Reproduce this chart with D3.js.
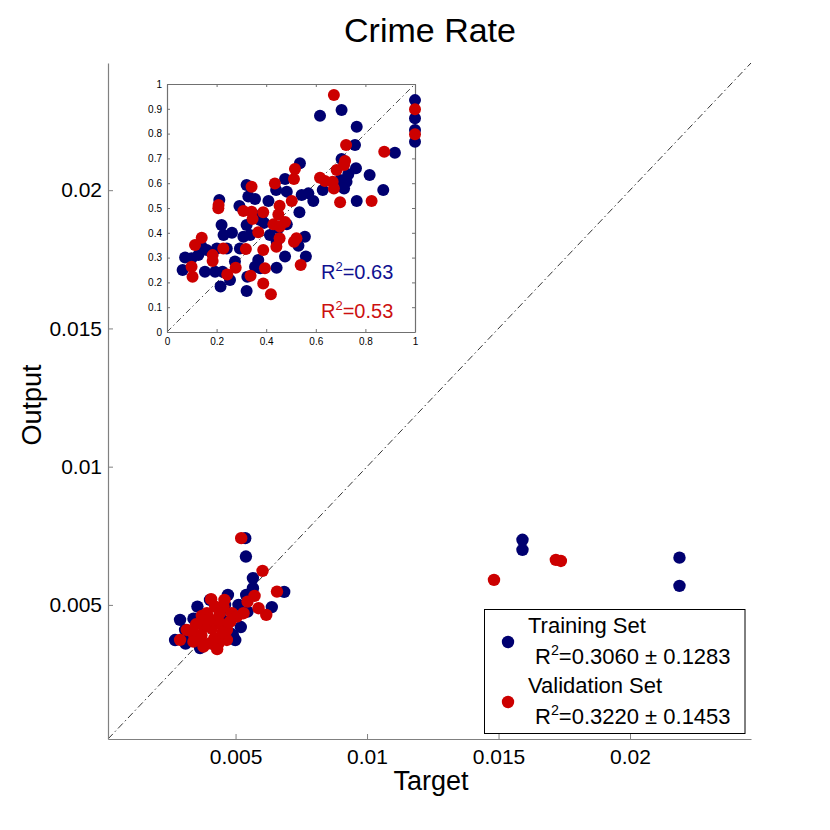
<!DOCTYPE html>
<html>
<head>
<meta charset="utf-8">
<script src="https://cdn.jsdelivr.net/npm/d3@7"></script>
<style>
  body { margin: 0; background: #fff; }
  text { font-family: "Liberation Sans", Arial, Helvetica, sans-serif; }
</style>
</head>
<body>
<svg id="vis" width="830" height="830"></svg>
<script>
// main plot, raw values
const trainTarget = [0.01591, 0.01591, 0.02188, 0.02188,
  0.005368, 0.005394, 0.00566, 0.00685, 0.00638,
  0.003550, 0.004709, 0.005406, 0.005661, 0.005112, 0.005455, 0.003082, 0.004796,
  0.003272, 0.003779, 0.004606, 0.0027, 0.00365, 0.00422, 0.00442, 0.00289, 0.00499, 0.00403,
  0.0031, 0.0052, 0.0049, 0.0034, 0.0046];
const trainOutput = [0.007354, 0.006991, 0.00671, 0.00569,
  0.007415, 0.00675, 0.00597, 0.00547, 0.00492,
  0.004939, 0.005362, 0.005362, 0.005605, 0.005000, 0.004757, 0.004095, 0.003975,
  0.003852, 0.004576, 0.004395, 0.00373, 0.00344, 0.00355, 0.00475, 0.00446, 0.00373, 0.00518,
  0.0036, 0.0042, 0.0039, 0.0045, 0.0050];
const valTarget = [0.014827, 0.01718, 0.01737,
  0.005215, 0.006027, 0.006575, 0.006168, 0.003718, 0.004072, 0.004579, 0.005722, 0.005455,
  0.005874, 0.002891, 0.003147, 0.003398, 0.003653, 0.004099, 0.004415, 0.004670, 0.004670,
  0.004034, 0.003779, 0.004350, 0.003398, 0.003909, 0.004225, 0.004541, 0.004861, 0.005051,
  0.005303, 0.004290, 0.003909,
  0.0038, 0.0042, 0.0045, 0.0035, 0.0040, 0.0048, 0.0044, 0.0037, 0.0043];
const valOutput = [0.005905, 0.00663, 0.00659,
  0.007415, 0.006231, 0.005482, 0.004638, 0.004602, 0.005206, 0.005181, 0.005326, 0.005120,
  0.004880, 0.003736, 0.004095, 0.003975, 0.003794, 0.004156, 0.004337, 0.004095, 0.003733,
  0.003613, 0.003490, 0.003613, 0.003671, 0.004700, 0.004939, 0.004939, 0.004700, 0.004576,
  0.004700, 0.004457, 0.004395,
  0.0042, 0.0038, 0.0040, 0.0043, 0.0045, 0.0044, 0.0047, 0.0039, 0.0034];

// inset, normalised values
const insetTrainX = [1.0, 1.0, 1.0, 1.0, 0.704, 0.617, 0.765, 0.758, 0.919, 0.704, 0.762, 0.817,
  0.731, 0.698, 0.724, 0.628, 0.714, 0.872, 0.765, 0.59, 0.57, 0.543, 0.536, 0.476, 0.44, 0.483,
  0.321, 0.328, 0.355, 0.409, 0.211, 0.292, 0.382, 0.534, 0.483, 0.449, 0.220, 0.228, 0.321, 0.376,
  0.415, 0.442, 0.308, 0.335, 0.556, 0.530, 0.476, 0.294, 0.368, 0.355, 0.376, 0.442, 0.560, 0.241,
  0.274, 0.224, 0.254, 0.216, 0.324, 0.321, 0.140, 0.126, 0.16, 0.099, 0.073, 0.063, 0.153, 0.194,
  0.201, 0.392, 0.262];
const insetTrainY = [0.935, 0.862, 0.815, 0.767, 0.895, 0.872, 0.828, 0.754, 0.723, 0.698, 0.66, 0.633,
  0.636, 0.613, 0.606, 0.573, 0.579, 0.573, 0.528, 0.528, 0.559, 0.552, 0.68, 0.617, 0.573, 0.566,
  0.593, 0.546, 0.536, 0.528, 0.532, 0.508, 0.474, 0.483, 0.434, 0.418, 0.431, 0.391, 0.431, 0.452,
  0.391, 0.364, 0.384, 0.391, 0.384, 0.348, 0.304, 0.337, 0.290, 0.263, 0.257, 0.259, 0.304, 0.337,
  0.284, 0.243, 0.210, 0.183, 0.223, 0.165, 0.344, 0.310, 0.331, 0.297, 0.300, 0.250, 0.243, 0.243,
  0.337, 0.44, 0.40];
const insetValX = [1.0, 1.0, 0.673, 0.722, 0.876, 0.718, 0.714, 0.684, 0.617, 0.637, 0.668, 0.673,
  0.825, 0.698, 0.516, 0.512, 0.435, 0.341, 0.208, 0.207, 0.308, 0.341, 0.388, 0.345, 0.449, 0.454,
  0.503, 0.476, 0.429, 0.455, 0.368, 0.454, 0.522, 0.512, 0.441, 0.318, 0.388, 0.395, 0.539, 0.227,
  0.184, 0.184, 0.277, 0.243, 0.337, 0.388, 0.419, 0.113, 0.140, 0.099, 0.103];
const insetValY = [0.898, 0.797, 0.956, 0.754, 0.727, 0.69, 0.673, 0.653, 0.622, 0.609, 0.606, 0.579,
  0.528, 0.523, 0.657, 0.617, 0.599, 0.586, 0.512, 0.499, 0.488, 0.485, 0.483, 0.456, 0.474, 0.509,
  0.528, 0.444, 0.434, 0.425, 0.402, 0.378, 0.378, 0.364, 0.344, 0.335, 0.331, 0.257, 0.270, 0.337,
  0.310, 0.286, 0.259, 0.232, 0.227, 0.196, 0.152, 0.351, 0.380, 0.263, 0.223];

const mainTicks = [0.005, 0.01, 0.015, 0.02];
const insetXTicks = [0, 0.2, 0.4, 0.6, 0.8, 1];
const insetYTicks = [0, 0.1, 0.2, 0.3, 0.4, 0.5, 0.6, 0.7, 0.8, 0.9, 1];
const legendNames = ["Training Set", "Validation Set"];
const legendR2 = ["0.3060 \u00B1 0.1283", "0.3220 \u00B1 0.1453"];
const insetR2 = ["0.63", "0.53"];

const blue = "#000070", red = "#cc0000";
const svg = d3.select("#vis");

const x = d3.scaleLinear().domain([0.00015, 0.0246]).range([108, 751]);
const y = d3.scaleLinear().domain([0.00015, 0.0246]).range([739, 63]);

// diagonal
svg.append("line")
  .attr("x1", x(0.00015)).attr("y1", y(0.00015))
  .attr("x2", x(0.0246)).attr("y2", y(0.0246))
  .attr("stroke", "#000").attr("stroke-width", 0.8)
  .attr("stroke-dasharray", "7,3,1.5,3");

// axes
const xAxis = d3.axisBottom(x).tickValues(mainTicks).tickFormat(d3.format("~g")).tickSizeInner(-5).tickSizeOuter(0).tickPadding(10);
const yAxis = d3.axisLeft(y).tickValues(mainTicks).tickFormat(d3.format("~g")).tickSizeInner(-5).tickSizeOuter(0).tickPadding(6);
const gx = svg.append("g").attr("transform", "translate(0,739)").call(xAxis);
const gy = svg.append("g").attr("transform", "translate(108,0)").call(yAxis);
[gx, gy].forEach(g => {
  g.select(".domain").attr("stroke", "#808080").attr("stroke-width", 1.2);
  g.selectAll(".tick line").attr("stroke", "#808080");
  g.selectAll(".tick text").attr("font-size", 21).attr("fill", "#000")
    .attr("font-family", "Liberation Sans, Arial, sans-serif");
});
gx.selectAll(".tick text").attr("dy", "0.71em");

// points
const train = trainTarget.map((t, i) => ({t, o: trainOutput[i]}));
const val = valTarget.map((t, i) => ({t, o: valOutput[i]}));
svg.append("g").selectAll("circle").data(train).join("circle")
  .attr("cx", d => x(d.t)).attr("cy", d => y(d.o)).attr("r", 6.2).attr("fill", blue);
svg.append("g").selectAll("circle").data(val).join("circle")
  .attr("cx", d => x(d.t)).attr("cy", d => y(d.o)).attr("r", 6.2).attr("fill", red);

// labels
svg.append("text").attr("x", 430).attr("y", 42).attr("text-anchor", "middle")
  .attr("font-size", 34).text("Crime Rate");
svg.append("text").attr("x", 431).attr("y", 790).attr("text-anchor", "middle")
  .attr("font-size", 27).text("Target");
svg.append("text").attr("transform", "translate(41,405) rotate(-90)").attr("text-anchor", "middle")
  .attr("font-size", 27).text("Output");

// inset
const ix = d3.scaleLinear().domain([0, 1]).range([167, 415]);
const iy = d3.scaleLinear().domain([0, 1]).range([332, 84]);
const inset = svg.append("g");
inset.append("rect").attr("x", 167).attr("y", 84).attr("width", 248).attr("height", 248)
  .attr("fill", "#fff").attr("stroke", "none");
inset.append("line")
  .attr("x1", ix(0)).attr("y1", iy(0)).attr("x2", ix(1)).attr("y2", iy(1))
  .attr("stroke", "#000").attr("stroke-width", 0.7).attr("stroke-dasharray", "6,3,1.5,3");
const ixa = inset.append("g").attr("transform", "translate(0,332)")
  .call(d3.axisBottom(ix).tickValues(insetXTicks).tickFormat(d3.format("~g")).tickSizeInner(-3).tickSizeOuter(0).tickPadding(6));
const iya = inset.append("g").attr("transform", "translate(167,0)")
  .call(d3.axisLeft(iy).tickValues(insetYTicks).tickFormat(d3.format("~g")).tickSizeInner(-3).tickSizeOuter(0).tickPadding(5));
const ixt = inset.append("g").attr("transform", "translate(0,84)")
  .call(d3.axisTop(ix).tickValues(insetXTicks).tickFormat("").tickSizeInner(-3).tickSizeOuter(0));
const iyr = inset.append("g").attr("transform", "translate(415,0)")
  .call(d3.axisRight(iy).tickValues(insetYTicks).tickFormat("").tickSizeInner(-3).tickSizeOuter(0));
[ixa, iya, ixt, iyr].forEach(g => {
  g.select(".domain").attr("stroke", "#707070").attr("stroke-width", 1.2);
  g.selectAll(".tick line").attr("stroke", "#707070");
  g.selectAll(".tick text").attr("font-size", 10).attr("fill", "#000")
    .attr("font-family", "Liberation Sans, Arial, sans-serif");
});
const itrain = insetTrainX.map((v, i) => ({v, w: insetTrainY[i]}));
const ival = insetValX.map((v, i) => ({v, w: insetValY[i]}));
inset.append("g").selectAll("circle").data(itrain).join("circle")
  .attr("cx", d => ix(d.v)).attr("cy", d => iy(d.w)).attr("r", 6).attr("fill", blue);
inset.append("g").selectAll("circle").data(ival).join("circle")
  .attr("cx", d => ix(d.v)).attr("cy", d => iy(d.w)).attr("r", 6).attr("fill", red);

const r2text = (g, xx, yy, val, col, fs) => {
  const t = g.append("text").attr("x", xx).attr("y", yy).attr("font-size", fs).attr("fill", col);
  t.append("tspan").text("R");
  t.append("tspan").attr("dy", -fs * 0.42).attr("font-size", fs * 0.65).text("2");
  t.append("tspan").attr("dy", fs * 0.42).text("=" + val);
  return t;
};
r2text(inset, 321, 279, insetR2[0], "#101090", 20);
r2text(inset, 321, 318, insetR2[1], "#cc1010", 20);

// legend
const leg = svg.append("g");
leg.append("rect").attr("x", 484.5).attr("y", 609.5).attr("width", 260.5).attr("height", 124)
  .attr("fill", "#fff").attr("stroke", "#000").attr("stroke-width", 1);
legendNames.forEach((name, i) => {
  const by = 633 + i * 60;
  leg.append("circle").attr("cx", 508).attr("cy", by + 9).attr("r", 6.2).attr("fill", i ? red : blue);
  leg.append("text").attr("x", 528).attr("y", by).attr("font-size", 22).text(name);
  r2text(leg, 535, by + 31, legendR2[i], "#000", 22);
});
</script>
</body>
</html>
